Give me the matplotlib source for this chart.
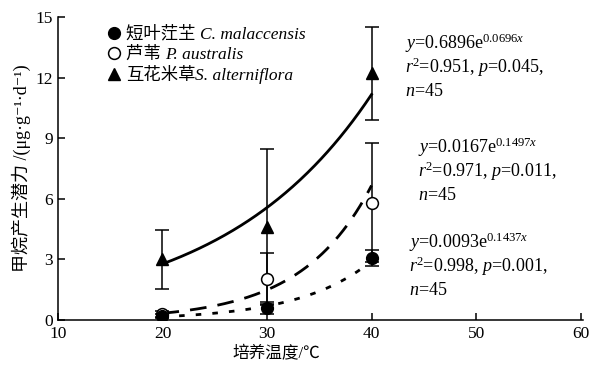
import numpy as np
import matplotlib
matplotlib.use("Agg")
import matplotlib.pyplot as plt
from matplotlib.transforms import IdentityTransform

plt.rcParams['font.family'] = ['Liberation Serif', 'Noto Sans CJK SC', 'DejaVu Serif']
plt.rcParams['mathtext.fontset'] = 'custom'
plt.rcParams['mathtext.rm'] = 'Liberation Serif'
plt.rcParams['mathtext.it'] = 'Liberation Serif:italic'

temps = [20, 30, 40]
cm_mean = [0.2, 0.6, 3.05]      # 短叶茳芏
cm_err = [0.1, 0.3, 0.4]
pa_mean = [0.3, 2.05, 5.8]      # 芦苇
pa_err = [0.15, 1.25, 2.95]
sa_mean = [3.0, 4.6, 12.2]      # 互花米草
sa_err = [1.45, 3.85, 2.3]

# fitted exponential models y = a*exp(b*x)
cm_fit = (0.0093, 0.1437)
pa_fit = (0.0167, 0.1497)
sa_fit = (0.6896, 0.0696)

cn_names = ['短叶茳芏 ', '芦苇 ', '互花米草']
latin_names = ['C. malaccensis', 'P. australis', 'S. alterniflora']

fig = plt.figure(figsize=(5.91, 3.67), dpi=100)
ax = fig.add_axes([0.098, 0.128, 0.888, 0.826])

xx = np.linspace(20, 40, 200)
ax.plot(xx, sa_fit[0] * np.exp(sa_fit[1] * xx), color='black', lw=2.0, ls='-')
ax.plot(xx, pa_fit[0] * np.exp(pa_fit[1] * xx), color='black', lw=2.0, ls=(0, (6, 4)))
ax.plot(xx, cm_fit[0] * np.exp(cm_fit[1] * xx), color='black', lw=2.0, ls=(0, (2, 4)))

ekw = dict(ecolor='black', elinewidth=1.1, capsize=5, capthick=1.1, ls='none')
h3 = ax.errorbar(temps, sa_mean, yerr=sa_err, marker='^', ms=9, mfc='black', mec='black', **ekw)
h2 = ax.errorbar(temps, pa_mean, yerr=pa_err, marker='o', ms=8.5, mfc='white', mec='black',
                 mew=1.1, **ekw)
h1 = ax.errorbar(temps, cm_mean, yerr=cm_err, marker='o', ms=8.5, mfc='black', mec='black', **ekw)

leg = ax.legend([h1[0], h2[0], h3[0]], cn_names, loc='upper left', bbox_to_anchor=(0.07, 1.01),
                frameon=False, fontsize=12.5, handlelength=0.8, handletextpad=0.3,
                labelspacing=0.25, borderaxespad=0.3)

ax.set_xlim(10, 60.2)
ax.set_ylim(0, 15)
ax.set_xticks([10, 20, 30, 40, 50, 60])
ax.set_yticks([0, 3, 6, 9, 12, 15])
ax.tick_params(direction='in', length=5, width=1.1, labelsize=12.5)
ax.tick_params(axis='x', pad=4)
for s in ['top', 'right']:
    ax.spines[s].set_visible(False)
for s in ['left', 'bottom']:
    ax.spines[s].set_linewidth(1.1)

ax.set_xlabel('培养温度/℃', fontsize=12, labelpad=2)
ax.xaxis.set_label_coords(0.417, -0.085)
ax.set_ylabel('甲烷产生潜力 /(μg·g⁻¹·d⁻¹)', fontsize=13, labelpad=3)

blocks = [
    (43.2, 13.7, '$y$=0.6896e$^{0.0696x}$', '0.951', '0.045'),
    (44.4, 8.55, '$y$=0.0167e$^{0.1497x}$', '0.971', '0.011'),
    (43.6, 3.85, '$y$=0.0093e$^{0.1437x}$', '0.998', '0.001'),
]
for x0, y0, eq, r2, p in blocks:
    ax.text(x0, y0, eq, fontsize=13, va='center', ha='left')
    ax.text(x0, y0 - 1.2, '$r$$^2$=' + r2 + ', $p$=' + p + ',', fontsize=13, va='center', ha='left')
    ax.text(x0, y0 - 2.38, '$n$=45', fontsize=13, va='center', ha='left')

# italic latin names appended after the chinese legend labels
fig.canvas.draw()
r = fig.canvas.get_renderer()
for t, name in zip(leg.get_texts(), latin_names):
    bb = t.get_window_extent(r)
    px, py = t.get_transform().transform(t.get_position())
    fig.text(bb.x1, py, name, transform=IdentityTransform(), fontsize=12.5,
             style='italic', va='baseline', ha='left')

fig.savefig('out.png', dpi=100)
